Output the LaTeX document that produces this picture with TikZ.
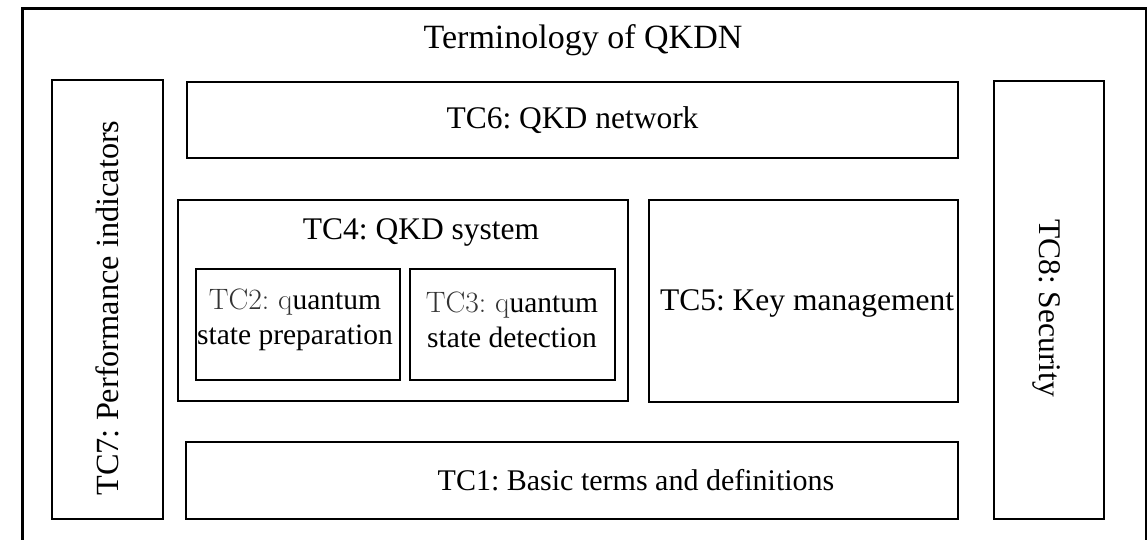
\documentclass[tikz,border=0pt]{standalone}
\usepackage{fontspec}
\newfontfamily\tnr{Liberation Serif}
\frenchspacing
\begin{document}
\begin{tikzpicture}[x=1pt,y=-1pt,
  box/.style={draw=black,line width=2.6pt,inner sep=0pt,outer sep=0pt,rectangle,align=center},
  txt/.style={font=\tnr\fontsize{31.5}{35}\selectfont}]
\useasboundingbox (0,0) rectangle (1147,540);
% outer frame (open at the bottom, cut by the page)
\coordinate (ol) at (22,560);
\coordinate (otl) at (22,9);
\coordinate (otr) at (1146,9);
\coordinate (or) at (1146,560);
\draw[line width=3pt] (ol) -- (otl) -- (otr) -- (or);
\node[txt,font=\tnr\fontsize{34}{38}\selectfont] (title) at (583,40) {Terminology of QKDN};
% side boxes
\node[box,minimum width=111pt,minimum height=439pt] (tc7) at (107.5,299.5) {};
\node[txt,rotate=90,font=\tnr\fontsize{32.3}{36}\selectfont] (tc7t) at (107.5,308) {TC7: Performance indicators};
\node[box,minimum width=110pt,minimum height=438pt] (tc8) at (1049,300) {};
\node[txt,rotate=-90] (tc8t) at (1047,308) {TC8: Security};
% top and bottom
\node[box,txt,minimum width=771pt,minimum height=76pt] (tc6) at (572.5,120) {TC6: QKD network};
\node[box,minimum width=772pt,minimum height=77pt] (tc1) at (572,480.5) {};
\node[txt,font=\tnr\fontsize{30}{35}\selectfont] (tc1t) at (636,480.5) {TC1: Basic terms and definitions};
% QKD system
\node[box,minimum width=450pt,minimum height=201pt] (tc4) at (403,300.5) {};
\node[txt] (tc4t) at (421,232) {TC4: QKD system};
\node[box,minimum width=204pt,minimum height=111pt] (tc2) at (298,324.5) {};
\node[txt,align=center,font=\tnr\fontsize{29.5}{35}\selectfont] (tc2t) at (295,319.5)
  {{\rmfamily\color{black!80}TC2: q}uantum\\state preparation};
\node[box,minimum width=205pt,minimum height=111pt] (tc3) at (512.5,324.5) {};
\node[txt,align=center,font=\tnr\fontsize{29.5}{35}\selectfont] (tc3t) at (512,319.5)
  {{\rmfamily\color{black!80}TC3: q}uantum\\state detection};
% key management
\node[box,minimum width=309pt,minimum height=202pt] (tc5) at (803.5,301) {};
\node[txt] (tc5t) at (807,303) {TC5: Key management};
\end{tikzpicture}
\end{document}
